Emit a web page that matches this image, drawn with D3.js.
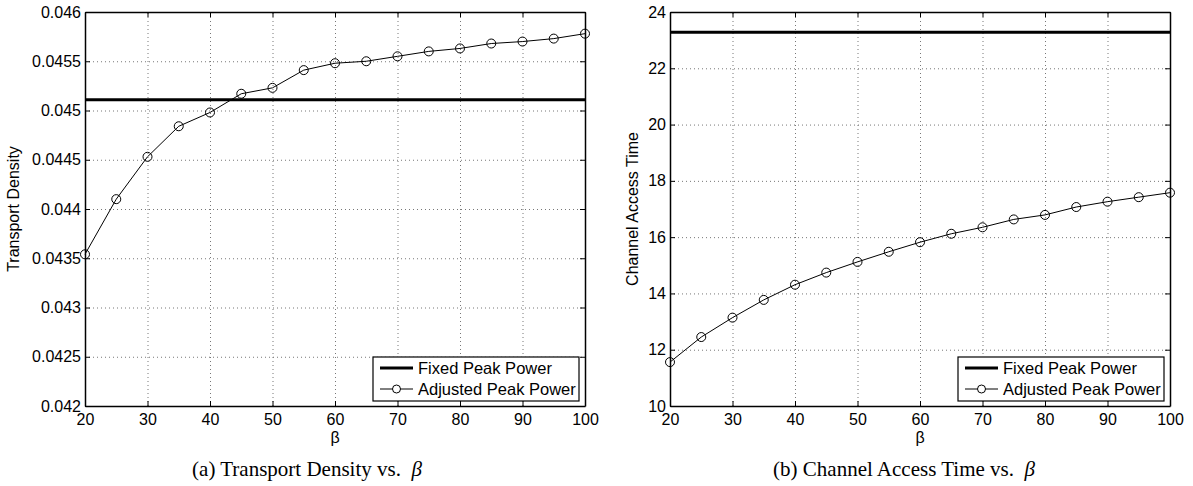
<html>
<head>
<meta charset="utf-8">
<script src="https://cdn.jsdelivr.net/npm/d3@7"></script>
<style>
  body { margin: 0; background: #fff; }
  text { font-family: "Liberation Sans", Arial, Helvetica, sans-serif; }
  .caption { font-family: "Liberation Serif", "Times New Roman", serif; }
</style>
</head>
<body>
<svg id="chart" width="1193" height="486"></svg>
<script>
// values
var betaValues = [20, 25, 30, 35, 40, 45, 50, 55, 60, 65, 70, 75, 80, 85, 90, 95, 100]
var densityAdjusted = [0.04354, 0.04410, 0.04453, 0.04484, 0.04498, 0.04517, 0.04523, 0.04541,
  0.04548, 0.04550, 0.04555, 0.04560, 0.04563, 0.04568, 0.04570, 0.04573, 0.04578]
var densityFixed = 0.04511
var accessAdjusted = [11.56, 12.45, 13.14, 13.77, 14.31, 14.74, 15.12, 15.48,
  15.82, 16.12, 16.35, 16.63, 16.79, 17.07, 17.26, 17.42, 17.58]
var accessFixed = 23.28

var xTicks = [20, 30, 40, 50, 60, 70, 80, 90, 100]
var densityTicks = [0.042, 0.0425, 0.043, 0.0435, 0.044, 0.0445, 0.045, 0.0455, 0.046]
var densityTickLabels = ["0.042", "0.0425", "0.043", "0.0435", "0.044", "0.0445", "0.045", "0.0455", "0.046"]
var accessTicks = [10, 12, 14, 16, 18, 20, 22, 24]
var legendLabels = ["Fixed Peak Power", "Adjusted Peak Power"]

var svg = d3.select("#chart")

var plotTop = 12, plotBottom = 406

//draws one matlab style panel
function drawPanel(opt) {
  var x = d3.scaleLinear().domain([20, 100]).range([opt.left, opt.right])
  var y = d3.scaleLinear().domain(opt.yDomain).range([plotBottom, plotTop])
  var g = svg.append("g")
  var w = opt.right - opt.left, h = plotBottom - plotTop

  //grid
  var grid = g.append("g")
  grid.append("g").attr("transform", "translate(0," + plotBottom + ")")
    .call(d3.axisBottom(x).tickValues(xTicks).tickSize(-h).tickFormat(""))
    .call(function (a) { a.select(".domain").remove() })
  grid.append("g").attr("transform", "translate(" + opt.left + ",0)")
    .call(d3.axisLeft(y).tickValues(opt.yTicks).tickSize(-w).tickFormat(""))
    .call(function (a) { a.select(".domain").remove() })
  grid.selectAll(".tick line").attr("stroke", "#777").attr("stroke-dasharray", "1,3")

  //axes with inward ticks
  var xa = g.append("g").attr("transform", "translate(0," + plotBottom + ")")
    .call(d3.axisBottom(x).tickValues(xTicks).tickSizeInner(-5).tickSizeOuter(0).tickPadding(8))
  var xt = g.append("g").attr("transform", "translate(0," + plotTop + ")")
    .call(d3.axisTop(x).tickValues(xTicks).tickSizeInner(-5).tickSizeOuter(0).tickFormat(""))
  var ya = g.append("g").attr("transform", "translate(" + opt.left + ",0)")
    .call(d3.axisLeft(y).tickValues(opt.yTicks).tickSizeInner(-5).tickSizeOuter(0).tickPadding(4)
      .tickFormat(function (d, i) { return opt.yLabels[i] }))
  var yr = g.append("g").attr("transform", "translate(" + opt.right + ",0)")
    .call(d3.axisRight(y).tickValues(opt.yTicks).tickSizeInner(-5).tickSizeOuter(0).tickFormat(""))
  ;[xa, xt, ya, yr].forEach(function (a) {
    a.attr("font-size", 16).attr("font-family", "'Liberation Sans', Arial, sans-serif")
    a.select(".domain").attr("stroke", "#000").attr("stroke-width", 1.5)
    a.selectAll(".tick line").attr("stroke", "#000")
    a.selectAll("text").attr("fill", "#000")
  })

  //axis titles
  g.append("text").attr("x", (opt.left + opt.right) / 2).attr("y", 443)
    .attr("text-anchor", "middle").attr("font-size", 16).text("β")
  g.append("text")
    .attr("transform", "translate(" + opt.yTitleX + "," + ((plotTop + plotBottom) / 2) + ")rotate(-90)")
    .attr("text-anchor", "middle").attr("font-size", 16).text(opt.yTitle)

  //fixed peak power
  g.append("path").datum(betaValues)
    .attr("d", d3.line().x(function (d) { return x(d) }).y(function () { return y(opt.fixed) }))
    .attr("fill", "none").attr("stroke", "#000").attr("stroke-width", 3)

  //adjusted peak power
  var pts = betaValues.map(function (b, i) { return [b, opt.adjusted[i]] })
  g.append("path").datum(pts)
    .attr("d", d3.line().x(function (d) { return x(d[0]) }).y(function (d) { return y(d[1]) }))
    .attr("fill", "none").attr("stroke", "#000").attr("stroke-width", 1)
  g.selectAll("circle.pt").data(pts).enter().append("circle")
    .attr("cx", function (d) { return x(d[0]) })
    .attr("cy", function (d) { return y(d[1]) })
    .attr("r", 4.5).attr("fill", "none").attr("stroke", "#000").attr("stroke-width", 1)

  //legend
  var lx = opt.right - 212, ly = plotBottom - 49
  var leg = g.append("g").attr("transform", "translate(" + lx + "," + ly + ")")
  leg.append("rect").attr("width", 206).attr("height", 44)
    .attr("fill", "#fff").attr("stroke", "#000").attr("stroke-width", 1.2)
  leg.selectAll("text").data(legendLabels).enter().append("text")
    .attr("x", 45).attr("y", function (d, i) { return 11 + i * 21 })
    .attr("dy", "0.35em").attr("font-size", 16.5).text(function (d) { return d })
  leg.append("line").attr("x1", 7).attr("x2", 40).attr("y1", 11).attr("y2", 11)
    .attr("stroke", "#000").attr("stroke-width", 3)
  leg.append("line").attr("x1", 7).attr("x2", 40).attr("y1", 32).attr("y2", 32)
    .attr("stroke", "#000").attr("stroke-width", 1)
  leg.append("circle").attr("cx", 23.5).attr("cy", 32).attr("r", 4)
    .attr("fill", "#fff").attr("stroke", "#000")

  //caption
  var cap = svg.append("text").attr("class", "caption")
    .attr("x", opt.capX).attr("y", 476).attr("text-anchor", "middle").attr("font-size", 21)
  cap.append("tspan").text(opt.caption + " vs.\u2002")
  cap.append("tspan").attr("font-style", "italic").text("β")
}

drawPanel({
  left: 85, right: 585, yDomain: [0.042, 0.046], yTicks: densityTicks, yLabels: densityTickLabels,
  yTitle: "Transport Density", yTitleX: 19, fixed: densityFixed, adjusted: densityAdjusted,
  caption: "(a) Transport Density", capX: 307
})
drawPanel({
  left: 670, right: 1170, yDomain: [10, 24], yTicks: accessTicks, yLabels: accessTicks.map(String),
  yTitle: "Channel Access Time", yTitleX: 638, fixed: accessFixed, adjusted: accessAdjusted,
  caption: "(b) Channel Access Time", capX: 904
})
</script>
</body>
</html>
